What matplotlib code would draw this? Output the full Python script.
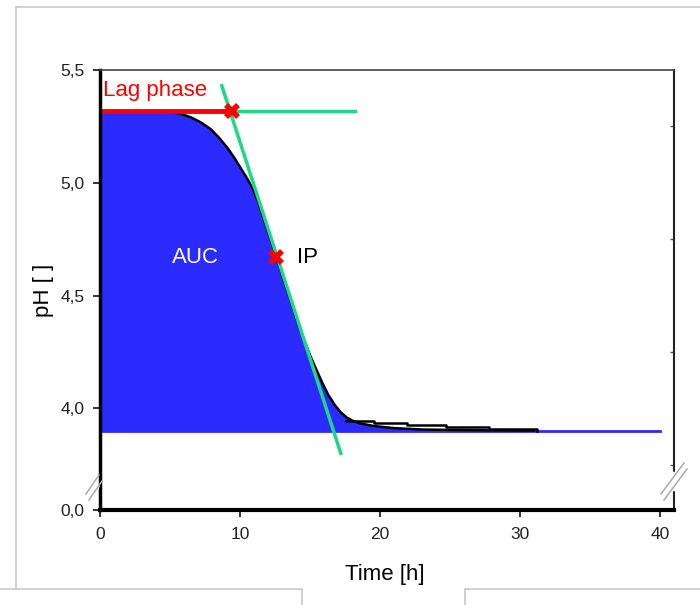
import numpy as np
import matplotlib
matplotlib.use("Agg")
import matplotlib.pyplot as plt
from matplotlib.lines import Line2D

plt.rcParams['font.family'] = ['Liberation Sans', 'DejaVu Sans']

# ---------------- data ----------------
time_mean = [0, 2, 4, 5.0, 5.8, 6.5, 7.2, 7.9, 8.5, 9.1, 9.6, 10.1, 10.5, 10.9,
             11.3, 11.6, 12.1, 12.6, 13.3, 14.1, 14.6, 15.0, 15.5, 15.9, 16.3,
             16.8, 17.2, 17.6, 18.0, 18.5, 19.5, 21, 23, 26, 31]
ph_mean = [5.32, 5.32, 5.318, 5.315, 5.305, 5.29, 5.268, 5.238, 5.2, 5.155,
           5.11, 5.06, 5.02, 4.975, 4.915, 4.855, 4.765, 4.67, 4.535, 4.385,
           4.3, 4.235, 4.165, 4.11, 4.06, 4.012, 3.982, 3.96, 3.946, 3.934,
           3.922, 3.912, 3.906, 3.903, 3.901]
time_rep = [17.6, 19.6, 21.9, 24.7, 27.8, 31.2]
ph_rep = [3.945, 3.935, 3.925, 3.915, 3.907, 3.9]
baseline_ph = 3.9
baseline_t = [0, 40]
lag_ph = 5.32
lag_time = 9.4
lag_green_end = 18.2
ip_time, ip_ph = 12.6, 4.67
tangent_t = [8.7, 17.2]
tangent_ph = [5.43, 3.80]

x_ticks = [0, 10, 20, 30, 40]
x_tick_labels = ['0', '10', '20', '30', '40']
y_ticks = [0.0, 4.0, 4.5, 5.0, 5.5]
y_tick_labels = ['0,0', '4,0', '4,5', '5,0', '5,5']
y_minor_right = [3.75, 4.25, 4.75, 5.25]

BLUE = '#2b2bff'
GREEN = '#1ed885'
RED = '#ff0000'

# ---------------- broken y scale ----------------
B = 3.62
C = 3.549

def fwd(y):
    y = np.asarray(y, dtype=float)
    return np.where(y >= B, y, C + y * (B - C) / B)

def inv(z):
    z = np.asarray(z, dtype=float)
    return np.where(z >= B, z, (z - C) * B / (B - C))

W, H = 700, 605
fig = plt.figure(figsize=(W / 100, H / 100), dpi=100)
fig.patch.set_facecolor('white')

L, R, T, BOT = 100, 674, 70, 510
ax = fig.add_axes([L / W, (H - BOT) / H, (R - L) / W, (BOT - T) / H])
ax.set_yscale('function', functions=(fwd, inv))
ax.set_xlim(0, 41.0)
ax.set_ylim(0, 5.5)

# fill (AUC)
ax.fill_between(time_mean, ph_mean, baseline_ph, color=BLUE, lw=0, zorder=2)
ax.plot(baseline_t, [baseline_ph, baseline_ph], color=BLUE, lw=2, zorder=3)
ax.plot([0, 0], [0, baseline_ph], color=BLUE, lw=2, zorder=3, clip_on=False)

# black curves
tm = np.array(time_mean)
pm = np.array(ph_mean)
mask = tm >= 5
ax.plot(tm[mask], pm[mask], color='black', lw=1.8, zorder=4,
        solid_joinstyle='round')
ax.plot(time_rep, ph_rep, color='black', lw=1.8, drawstyle='steps-post', zorder=4)

# lag phase
ax.plot([0, lag_time], [lag_ph, lag_ph], color=RED, lw=3.5, zorder=5)
ax.plot([lag_time, lag_green_end], [lag_ph, lag_ph], color=GREEN, lw=2.5, zorder=5)
ax.plot(tangent_t, tangent_ph, color=GREEN, lw=2.5, zorder=5)
ax.plot([lag_time, ip_time], [lag_ph, ip_ph], linestyle='none', marker='X',
        color=RED, markersize=11, markeredgewidth=0, zorder=6)

ax.text(0.2, 5.41, 'Lag phase', color=RED, fontsize=16, ha='left', va='center', zorder=7)
ax.text(6.8, 4.67, 'AUC', color='white', fontsize=16, ha='center', va='center', zorder=7)
ax.text(14.1, 4.67, 'IP', color='black', fontsize=16, ha='left', va='center', zorder=7)

# spines
ax.spines['left'].set_linewidth(2.5)
ax.spines['bottom'].set_linewidth(3)
ax.spines['top'].set_linewidth(1.2)
ax.spines['top'].set_color('#444444')
ax.spines['right'].set_linewidth(1.5)
ax.spines['right'].set_color('#222222')
for s in ax.spines.values():
    s.set_zorder(8)

ax.set_xticks(x_ticks)
ax.set_xticklabels(x_tick_labels)
ax.set_yticks(y_ticks)
ax.set_yticklabels(y_tick_labels)
ax.set_yticks(y_minor_right, minor=True)
ax.tick_params(axis='both', which='major', direction='out', length=5, width=1.3,
               labelsize=12.5, labelcolor='#222222', color='#222222')
ax.tick_params(axis='x', pad=7)
ax.tick_params(axis='y', pad=6)
ax.tick_params(axis='y', which='minor', left=False, right=True, direction='in',
               length=3, width=1, color='#555555')

ax.set_xlabel('Time [h]', fontsize=16)
ax.set_ylabel('pH [ ]', fontsize=16)
ax.xaxis.set_label_coords(0.497, -0.122)
ax.yaxis.set_label_coords(-0.081, 0.5)

# ---------------- decorations in figure pixel coordinates ----------------
def px_line(xs, ys, **kw):
    fig.add_artist(Line2D([x / W for x in xs], [1 - y / H for y in ys],
                          transform=fig.transFigure, **kw))

# break marks
for (x0, x1, y0, y1) in [(86, 102, 497, 478), (661, 687, 497, 466)]:
    cx = (x0 + x1) / 2
    px_line([cx - 1.5, cx + 1.5], [y0 - 6, y1 + 6], color='white', lw=7, zorder=20,
            solid_capstyle='butt')
    px_line([x0, x1 - 3], [y0 - 3, y1 - 3], color='#aaaaaa', lw=1.1, zorder=21)
    px_line([x0 + 3, x1], [y0 + 3, y1 + 3], color='#aaaaaa', lw=1.1, zorder=21)

# screenshot frame
px_line([16, 700], [7, 7], color='#c8c8c8', lw=1.2)
px_line([16, 16], [7, 589], color='#c8c8c8', lw=1.2)
px_line([0, 302, 302], [589, 589, 605], color='#c8c8c8', lw=1.2)
px_line([465, 465, 700], [605, 589, 589], color='#c8c8c8', lw=1.2)

fig.savefig('out.png', dpi=100)
